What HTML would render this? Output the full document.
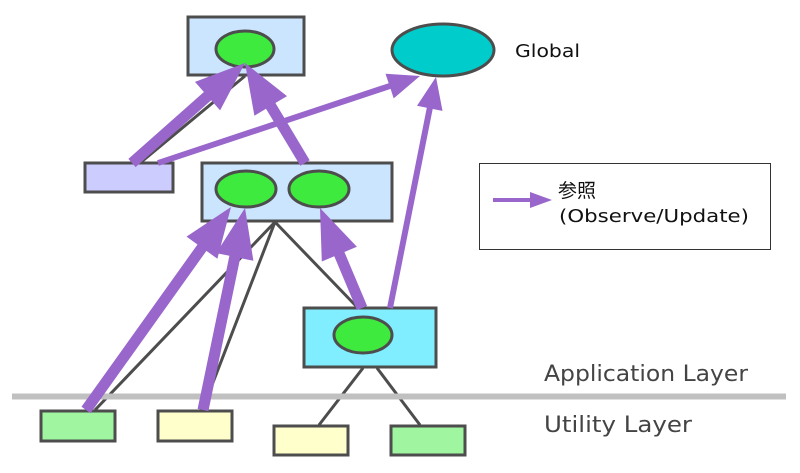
<!DOCTYPE html>
<html><head><meta charset="utf-8"><style>html,body{margin:0;padding:0;background:#fff}svg{display:block}</style></head>
<body>
<svg id="s" width="800" height="473" xmlns="http://www.w3.org/2000/svg">
<g stroke="#4d4d4d" stroke-width="3" fill="none">
<line x1="245" y1="76" x2="140" y2="163"/>
<line x1="275" y1="222" x2="95" y2="410"/>
<line x1="275" y1="222" x2="212" y2="385"/>
<line x1="275" y1="222" x2="357" y2="307"/>
<line x1="363" y1="368" x2="319" y2="425"/>
<line x1="377" y1="368" x2="420" y2="425"/>
</g>
<rect x="12" y="393.5" width="774" height="6" fill="#c0c0c0"/>
<g stroke="#4d4d4d" stroke-width="3">
<rect x="188" y="17" width="116" height="58" fill="#cce5ff"/>
<ellipse cx="245" cy="49" rx="29" ry="18" fill="#3eea3e"/>
<ellipse cx="443" cy="50" rx="51" ry="26" fill="#00cccc"/>
<rect x="85" y="163" width="88" height="29" fill="#ccccff"/>
<rect x="202" y="163" width="190" height="58" fill="#cce5ff"/>
<ellipse cx="246" cy="189" rx="30" ry="18" fill="#3eea3e"/>
<ellipse cx="319" cy="189" rx="30" ry="18" fill="#3eea3e"/>
<rect x="304" y="308" width="132" height="59" fill="#80eeff"/>
<ellipse cx="363" cy="335" rx="29" ry="18" fill="#3eea3e"/>
<rect x="41" y="411" width="74" height="30" fill="#a0f5a0"/>
<rect x="158" y="411" width="74" height="30" fill="#ffffcc"/>
<rect x="274" y="426" width="74" height="29" fill="#ffffcc"/>
<rect x="391" y="426" width="74" height="29" fill="#a0f5a0"/>
</g>
<g id="arr" fill="#9966cc"></g>
<rect x="479.5" y="163.5" width="291" height="86" fill="none" stroke="#333" stroke-width="1"/>
<g font-family="DejaVu Sans, Noto Sans CJK JP, sans-serif">
<text x="515" y="57" font-size="18" fill="#111" textLength="65" lengthAdjust="spacingAndGlyphs">Global</text>
<text x="558" y="197" font-size="19" fill="#111" font-family="Noto Sans CJK JP, sans-serif">参照</text>
<text x="559" y="222" font-size="18" fill="#111" textLength="190" lengthAdjust="spacingAndGlyphs">(Observe/Update)</text>
<text x="544" y="381" font-size="22" fill="#444" textLength="204" lengthAdjust="spacingAndGlyphs">Application Layer</text>
<text x="544" y="432" font-size="22" fill="#444" textLength="148" lengthAdjust="spacingAndGlyphs">Utility Layer</text>
</g>
</svg>
<script>
var g=document.getElementById('arr');
function A(x1,y1,x2,y2,w,hl,hw){
 var dx=x2-x1,dy=y2-y1,L=Math.hypot(dx,dy),ux=dx/L,uy=dy/L,px=-uy,py=ux;
 var bx=x2-ux*hl,by=y2-uy*hl;
 var p=[[x1+px*w/2,y1+py*w/2],[bx+px*w/2,by+py*w/2],[bx+px*hw/2,by+py*hw/2],[x2,y2],[bx-px*hw/2,by-py*hw/2],[bx-px*w/2,by-py*w/2],[x1-px*w/2,y1-py*w/2]];
 var e=document.createElementNS('http://www.w3.org/2000/svg','polygon');
 e.setAttribute('points',p.map(function(q){return q[0].toFixed(1)+','+q[1].toFixed(1)}).join(' '));
 g.appendChild(e);
}
A(132,163,245,63,11,50,38);
A(305,163,245,63,11,50,38);
A(158,163,420,76,6,32,26);
A(390,308,436,77,6,32,26);
A(86,410,231,207,11,50,38);
A(203,410,245,208,11,50,38);
A(362,308,320,208,11,50,38);
A(493,200,552,200,4,22,16);
</script>
</body></html>
